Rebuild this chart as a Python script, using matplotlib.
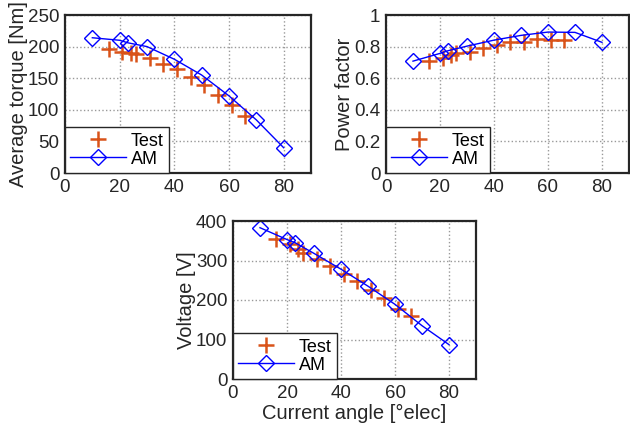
import numpy as np
import matplotlib.pyplot as plt

plt.rcParams['font.family'] = ['Liberation Sans', 'DejaVu Sans']

# current angle [deg elec]
am_angle = [10, 20, 23, 30, 40, 50, 60, 70, 80]
test_angle = [16, 21, 24, 26, 31, 36, 41, 46, 51, 56, 61, 66]

am_torque = [214, 210, 206, 200, 180, 155, 122, 84, 40]
test_torque = [196, 192, 190, 189, 182, 173, 165, 152, 139, 124, 107, 90]

am_pf = [0.708, 0.757, 0.774, 0.803, 0.841, 0.871, 0.892, 0.890, 0.827]
test_pf = [0.708, 0.725, 0.746, 0.757, 0.767, 0.789, 0.810, 0.827, 0.831, 0.846, 0.841, 0.841]

am_volt = [383, 353, 345, 318, 278, 235, 189, 135, 87]
test_volt = [355, 341, 328, 320, 305, 286, 265, 248, 225, 206, 177, 160]

fig = plt.figure(figsize=(6.3, 4.36), dpi=100)
W, H = 630, 436


def make_ax(l, t, r, b):
    return fig.add_axes([l / W, 1 - b / H, (r - l) / W, (b - t) / H])


def draw(ax, test_y, am_y, ylim, yticks, ylabel, xlabel=None):
    ax.plot(test_angle, test_y, '+', color='#D95319', markersize=11,
            markeredgewidth=1.8, label='Test')
    ax.plot(am_angle, am_y, '-', color='#0000FF', linewidth=1,
            marker='D', markersize=8, markerfacecolor='none',
            markeredgewidth=1, label='AM')
    ax.set_xlim(0, 90)
    ax.set_xticks([0, 20, 40, 60, 80])
    ax.set_ylim(*ylim)
    ax.set_yticks(yticks)
    ax.grid(True, linestyle=':', color='#999999', linewidth=1)
    ax.tick_params(labelsize=13.5, direction='in', length=0, pad=4,
                   colors='#262626')
    ax.set_ylabel(ylabel, fontsize=14.5, color='#262626', labelpad=0)
    if xlabel:
        ax.set_xlabel(xlabel, fontsize=14.5, color='#262626', labelpad=2)
    for s in ax.spines.values():
        s.set_linewidth(1.6)
        s.set_color('#262626')
    leg = ax.legend(loc='lower left', borderaxespad=0, fancybox=False,
                    framealpha=1, edgecolor='#262626', fontsize=13,
                    handlelength=3.1, handletextpad=0.25, borderpad=0.3,
                    labelspacing=0.05)
    leg.get_frame().set_linewidth(1)


ax1 = make_ax(65, 15, 311, 173)
draw(ax1, test_torque, am_torque, (0, 250), [0, 50, 100, 150, 200, 250],
     'Average torque [Nm]')

ax2 = make_ax(386, 15, 629, 173)
draw(ax2, test_pf, am_pf, (0, 1), [0, 0.2, 0.4, 0.6, 0.8, 1],
     'Power factor')
ax2.set_yticklabels(['0', '0.2', '0.4', '0.6', '0.8', '1'])

ax3 = make_ax(233, 221, 476, 379)
draw(ax3, test_volt, am_volt, (0, 400), [0, 100, 200, 300, 400],
     'Voltage [V]', 'Current angle [°elec]')

fig.savefig('out.png', dpi=100)
